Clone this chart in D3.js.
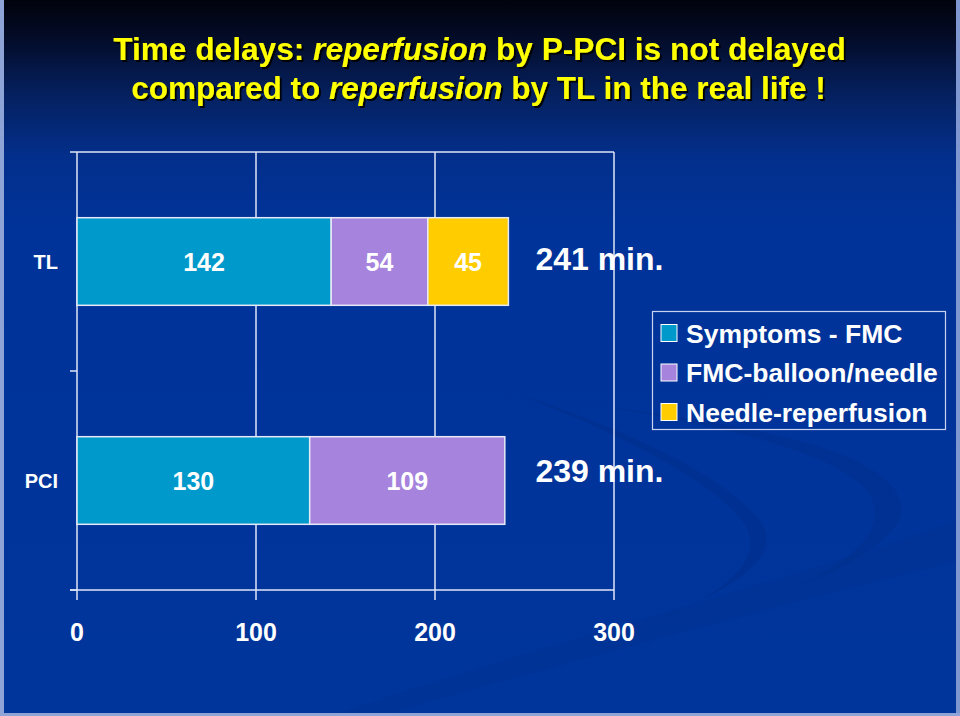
<!DOCTYPE html>
<html>
<head>
<meta charset="utf-8">
<script src="https://cdn.jsdelivr.net/npm/d3@7/dist/d3.min.js"></script>
<style>
  html, body { margin: 0; padding: 0; background: #003399; }
  svg { display: block; }
  text { font-family: "Liberation Sans", Arial, sans-serif; }
</style>
</head>
<body>
<svg id="chart" width="960" height="716"></svg>
<script>
// ---------- data ----------
const categories = ["TL", "PCI"];
const seriesNames = ["Symptoms - FMC", "FMC-balloon/needle", "Needle-reperfusion"];
const symptomsFMC = [142, 130];
const fmcBalloonNeedle = [54, 109];
const needleReperfusion = [45, 0];
const xTickValues = [0, 100, 200, 300];
const seriesColors = ["#0099CC", "#A683DC", "#FFCC00"];
const titleLine1 = [["Time delays: ", false], ["reperfusion", true], [" by P-PCI is not delayed", false]];
const titleLine2 = [["compared to ", false], ["reperfusion", true], [" by TL in the real life !", false]];

// ---------- setup ----------
const W = 960, H = 716;
const svg = d3.select("#chart");
const defs = svg.append("defs");

const bg = defs.append("linearGradient").attr("id", "bg")
  .attr("x1", 0).attr("y1", 0).attr("x2", 0).attr("y2", 1);
[[0, "#01030c"], [0.05, "#030b26"], [0.13, "#05205e"], [0.22, "#032f8c"], [0.32, "#003399"], [1, "#00359c"]]
  .forEach(([o, c]) => bg.append("stop").attr("offset", o).attr("stop-color", c));

const shadow = defs.append("filter").attr("id", "shadow")
  .attr("x", "-5%").attr("y", "-20%").attr("width", "110%").attr("height", "140%");
shadow.append("feDropShadow").attr("dx", 2).attr("dy", 2).attr("stdDeviation", 0.6)
  .attr("flood-color", "#000000").attr("flood-opacity", 0.9);

svg.append("rect").attr("width", W).attr("height", H).attr("fill", "url(#bg)");

// decorative swooshes (subtle)
const deco = svg.append("g");
deco.append("path")
  .attr("d", "M520,395 C600,420 720,470 760,520 C790,560 720,600 600,640 C700,610 770,570 745,525 C715,480 610,430 520,395 Z")
  .attr("fill", "#002a80").attr("opacity", 0.35);
deco.append("path")
  .attr("d", "M560,400 C700,420 880,440 900,500 C915,540 820,580 760,600 C850,570 890,530 870,495 C840,450 700,420 560,400 Z")
  .attr("fill", "#002a80").attr("opacity", 0.3);
deco.append("path")
  .attr("d", "M330,716 C520,650 760,590 960,520 L960,560 C760,610 540,670 380,716 Z")
  .attr("fill", "#00318f").attr("opacity", 0.5);

// slide edge border
svg.append("rect").attr("x", 0).attr("y", 0).attr("width", 4).attr("height", H).attr("fill", "#8ea3d6");
svg.append("rect").attr("x", W - 4).attr("y", 0).attr("width", 4).attr("height", H).attr("fill", "#7f97d0");
svg.append("rect").attr("x", 0).attr("y", H - 3).attr("width", W).attr("height", 3).attr("fill", "#8ea3d6");

// ---------- title ----------
function titleLine(parts, cx, baseline, width) {
  const t = svg.append("text")
    .attr("font-size", 31).attr("font-weight", "bold").attr("fill", "#FFFF00")
    .attr("text-anchor", "middle").attr("filter", "url(#shadow)");
  parts.forEach(([s, it]) => t.append("tspan").text(s).attr("font-style", it ? "italic" : "normal"));
  const w = t.node().getComputedTextLength();
  t.attr("transform", `translate(${cx},${baseline}) scale(${width / w},1)`);
}
titleLine(titleLine1, 479.5, 60, 733);
titleLine(titleLine2, 478.5, 99, 695);

// ---------- scales ----------
const x = d3.scaleLinear().domain([0, 300]).range([77, 614]);
const y = d3.scaleBand().domain(categories).range([152, 590]).paddingInner(0.6).paddingOuter(0.3);

const rows = categories.map((c, i) => ({
  cat: c, s0: symptomsFMC[i], s1: fmcBalloonNeedle[i], s2: needleReperfusion[i]
}));
const keys = ["s0", "s1", "s2"];
const stacked = d3.stack().keys(keys)(rows);

const lineColor = "#dfe6f7";

const g = svg.append("g");
// vertical gridlines
g.selectAll(".grid").data(xTickValues.filter(v => v > 0)).join("line")
  .attr("x1", d => x(d)).attr("x2", d => x(d))
  .attr("y1", y.range()[0]).attr("y2", y.range()[1])
  .attr("stroke", lineColor).attr("stroke-width", 1.5);

// y axis line and ticks at category boundaries
const step = y.step();
const boundaries = [y.range()[0], y(categories[0]) + y.bandwidth() + (step - y.bandwidth()) / 2, y.range()[1]];
g.append("line").attr("x1", x(0)).attr("x2", x(0)).attr("y1", y.range()[0]).attr("y2", y.range()[1])
  .attr("stroke", lineColor).attr("stroke-width", 1.5);
g.selectAll(".ytick").data(boundaries).join("line")
  .attr("x1", x(0) - 7).attr("x2", x(0)).attr("y1", d => d).attr("y2", d => d)
  .attr("stroke", lineColor).attr("stroke-width", 1.5);
// top border
g.append("line").attr("x1", x(0)).attr("x2", x(300)).attr("y1", y.range()[0]).attr("y2", y.range()[0])
  .attr("stroke", lineColor).attr("stroke-width", 1.5);

// x axis
g.append("line").attr("x1", x(0) - 7).attr("x2", x(300)).attr("y1", y.range()[1]).attr("y2", y.range()[1])
  .attr("stroke", lineColor).attr("stroke-width", 1.5);
g.selectAll(".xtick").data(xTickValues).join("line")
  .attr("x1", d => x(d)).attr("x2", d => x(d)).attr("y1", y.range()[1]).attr("y2", y.range()[1] + 10)
  .attr("stroke", lineColor).attr("stroke-width", 1.5);
g.selectAll(".xlabel").data(xTickValues).join("text")
  .attr("x", d => x(d)).attr("y", 641)
  .attr("text-anchor", "middle").attr("font-size", 25).attr("font-weight", "bold").attr("fill", "#ffffff")
  .text(d => d);

// category labels
g.selectAll(".ylabel").data(categories).join("text")
  .attr("x", 58).attr("y", d => y(d) + y.bandwidth() / 2 + 7)
  .attr("text-anchor", "end").attr("font-size", 20).attr("font-weight", "bold").attr("fill", "#ffffff")
  .text(d => d);

// bars
const layers = g.selectAll(".layer").data(stacked).join("g")
  .attr("fill", (d, i) => seriesColors[i]);
layers.selectAll("rect").data(d => d.filter(p => p[1] - p[0] > 0)).join("rect")
  .attr("x", p => x(p[0])).attr("width", p => x(p[1]) - x(p[0]))
  .attr("y", p => y(p.data.cat)).attr("height", y.bandwidth())
  .attr("stroke", "#e6e9f5").attr("stroke-width", 1.5);

// segment labels
layers.selectAll("text").data(d => d.filter(p => p[1] - p[0] > 0)).join("text")
  .attr("x", p => (x(p[0]) + x(p[1])) / 2)
  .attr("y", p => y(p.data.cat) + y.bandwidth() / 2 + 9)
  .attr("text-anchor", "middle").attr("font-size", 25).attr("font-weight", "bold").attr("fill", "#ffffff")
  .text(p => p[1] - p[0]);

// totals
const totals = rows.map(r => r.s0 + r.s1 + r.s2);
const totalOffsets = [-3, -10];
g.selectAll(".total").data(rows).join("text")
  .attr("x", x(d3.max(totals)) + 27)
  .attr("y", (r, i) => y(r.cat) + y.bandwidth() / 2 + totalOffsets[i] + 11)
  .attr("font-size", 32).attr("font-weight", "bold").attr("fill", "#ffffff")
  .text((r, i) => totals[i] + " min.");

// legend
const leg = svg.append("g");
leg.append("rect").attr("x", 652.5).attr("y", 311.5).attr("width", 293).attr("height", 118)
  .attr("fill", "none").attr("stroke", "#c9d2f0").attr("stroke-width", 1.2);
const items = leg.selectAll(".item").data(seriesNames).join("g")
  .attr("transform", (d, i) => `translate(661,${333 + i * 39.5})`);
items.append("rect").attr("x", 0).attr("y", -8.5).attr("width", 16).attr("height", 17)
  .attr("fill", (d, i) => seriesColors[i]).attr("stroke", "#ffffff").attr("stroke-width", 1);
items.append("text").attr("x", 25).attr("y", 9.5)
  .attr("font-size", 26.5).attr("font-weight", "bold").attr("fill", "#ffffff")
  .text(d => d);
</script>
</body>
</html>
